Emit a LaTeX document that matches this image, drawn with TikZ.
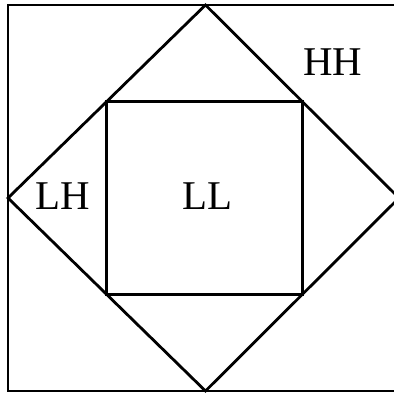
\documentclass[tikz,border=0pt]{standalone}
\usepackage{fontspec}
\setmainfont{Liberation Serif}
\usetikzlibrary{calc}

\begin{document}
\begin{tikzpicture}[
  x=1bp, y=1bp,
  edge/.style={draw, line width=2.8bp, line join=miter},
  band/.style={font=\fontsize{41}{41}\selectfont, inner sep=0pt}
]
\useasboundingbox (0,0) rectangle (394,395);
% outer frame (right side falls past the page edge)
\coordinate (ftl) at (8,390);
\coordinate (fbl) at (8,4);
\coordinate (ftr) at (400,390);
\coordinate (fbr) at (400,4);
\draw[edge] (ftr) -- (ftl) -- (fbl) -- (fbr);
% diamond (right corner is cut by the page edge)
\coordinate (dt) at (205.5,390);
\coordinate (dl) at (8,197);
\coordinate (db) at (205.5,4);
\coordinate (dr) at (399,197);
\draw[edge] (dt) -- (dl) -- (db) -- (dr) -- cycle;
% inner square on the midpoints of the diamond
\coordinate (stl) at ($(dt)!0.5!(dl)$);
\coordinate (sbl) at ($(dl)!0.5!(db)$);
\coordinate (sbr) at ($(db)!0.5!(dr)$);
\coordinate (str) at ($(dr)!0.5!(dt)$);
\draw[edge] (stl) -- (sbl) -- (sbr) -- (str) -- cycle;
% labels
\node[band] (ll) at (207,199) {LL};
\node[band] (lh) at (63,199) {LH};
\node[band] (hh) at (333,333) {HH};
\end{tikzpicture}
\end{document}
